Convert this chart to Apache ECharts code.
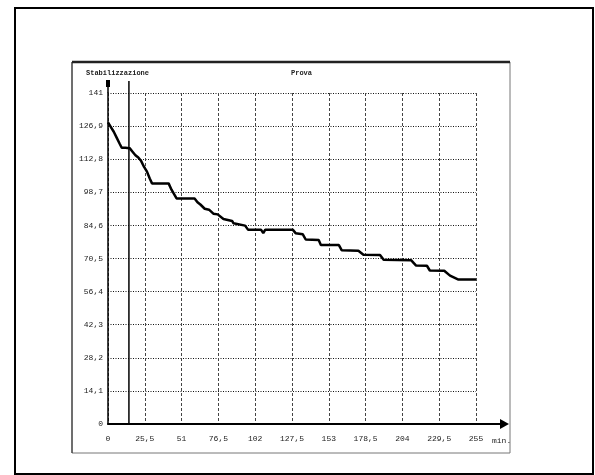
<!DOCTYPE html>
<html><head><meta charset="utf-8">
<script src="https://cdn.jsdelivr.net/npm/echarts@6/dist/echarts.min.js"></script>
<style>html,body{margin:0;padding:0;background:#fff}#c{width:595px;height:475px}</style>
</head><body><div id="c"></div>
<script>
const xTickLabels = ['0','25,5','51','76,5','102','127,5','153','178,5','204','229,5','255'];
const yTickLabels = ['0','14,1','28,2','42,3','56,4','70,5','84,6','98,7','112,8','126,9','141'];
const stabilizationX = 14.5;
const phaseLabels = ['Stabilizzazione', 'Prova'];
const xUnit = 'min.';
const timeMin = [0,2,4,6,8,9.5,12,13,15,17,19,21,23,25,27,29,30.5,42,44,47.5,60,62,64,67,70,73,76,80,86,87,95,97,106,107.6,109,128,130,135,137,146,147.5,160,162,173.5,177,188.5,191,210,213.5,221,223,233,237,242.5,255];
const values = [128.5,126.5,124.5,122,119.5,117.7,117.7,118.3,117.5,116,114.5,113.5,112,109.5,107.5,104.5,102.5,102.5,99.8,96.1,96.1,94.5,93.5,91.7,91.3,89.6,89.3,87.3,86.5,85.5,84.5,82.8,82.8,81.3,82.8,82.8,81.3,80.8,78.6,78.4,76.3,76.2,74,73.8,72.1,72,70,69.8,67.5,67.4,65.4,65.3,63.2,61.6,61.6];

const font = 'Liberation Mono';
const chart = echarts.init(document.getElementById('c'), null, {renderer:'canvas'});
const xStep = 25.5, yStep = 14.1;
chart.setOption({
  animation:false,
  backgroundColor:'#fff',
  grid:{left:108, top:93, right:119, bottom:51, containLabel:false},
  xAxis:{type:'value', min:0, max:255, interval:xStep,
    name:xUnit, nameLocation:'end', nameGap:16,
    nameTextStyle:{fontFamily:font, fontSize:8, color:'#222', verticalAlign:'top', padding:[13,0,0,0]},
    axisLine:{lineStyle:{color:'#000', width:2}},
    axisTick:{show:false},
    axisLabel:{fontFamily:font, fontSize:8, color:'#222', margin:11,
      formatter:(v)=>xTickLabels[Math.round(v/xStep)] ?? ''},
    splitLine:{show:true, lineStyle:{color:'#444', type:[3,2], width:1}}},
  yAxis:{type:'value', min:0, max:141, interval:yStep,
    axisLine:{show:true, lineStyle:{color:'#000', width:1.5}},
    axisTick:{show:false},
    axisLabel:{fontFamily:font, fontSize:8, color:'#222', margin:5,
      formatter:(v)=>yTickLabels[Math.round(v/yStep)] ?? ''},
    splitLine:{show:true, lineStyle:{color:'#111', type:[1,1.5], width:1}}},
  series:[{type:'line', data:timeMin.map((t,i)=>[t, values[i]]), showSymbol:false,
    lineStyle:{color:'#000', width:2.5}, z:5}]
});

const p0 = chart.convertToPixel({gridIndex:0}, [0,0]);
const pTop = chart.convertToPixel({gridIndex:0}, [255,141]);
const pStab = chart.convertToPixel({gridIndex:0}, [stabilizationX,0]);
const ext = 12;
chart.setOption({graphic:[
  {type:'rect', shape:{x:15, y:8, width:578, height:466}, style:{fill:null, stroke:'#000', lineWidth:2}, silent:true},
  {type:'rect', shape:{x:72, y:62, width:438, height:391}, style:{fill:null, stroke:'#777', lineWidth:1}, silent:true},
  {type:'line', shape:{x1:72, y1:62, x2:510, y2:62}, style:{stroke:'#222', lineWidth:2.5}, silent:true},
  {type:'line', shape:{x1:72, y1:62, x2:72, y2:453}, style:{stroke:'#222', lineWidth:1}, silent:true},
  {type:'line', shape:{x1:p0[0], y1:pTop[1], x2:p0[0], y2:pTop[1]-ext}, style:{stroke:'#000', lineWidth:1.5}, silent:true},
  {type:'rect', shape:{x:p0[0]-2, y:pTop[1]-ext-1, width:4, height:7}, style:{fill:'#000'}, silent:true},
  {type:'line', shape:{x1:pStab[0], y1:p0[1], x2:pStab[0], y2:pTop[1]-ext}, style:{stroke:'#000', lineWidth:1.5}, silent:true},
  {type:'line', shape:{x1:pTop[0], y1:p0[1], x2:pTop[0]+26, y2:p0[1]}, style:{stroke:'#000', lineWidth:2}, silent:true},
  {type:'polygon', shape:{points:[[pTop[0]+24,p0[1]-5],[pTop[0]+33,p0[1]],[pTop[0]+24,p0[1]+5]]}, style:{fill:'#000'}, silent:true},
  {type:'text', x:86, y:pTop[1]-20, style:{text:phaseLabels[0], font:'bold 7px "Liberation Mono"', fill:'#222', verticalAlign:'middle'}, silent:true},
  {type:'text', x:291, y:pTop[1]-20, style:{text:phaseLabels[1], font:'bold 7px "Liberation Mono"', fill:'#222', verticalAlign:'middle'}, silent:true}
]});
</script></body></html>
